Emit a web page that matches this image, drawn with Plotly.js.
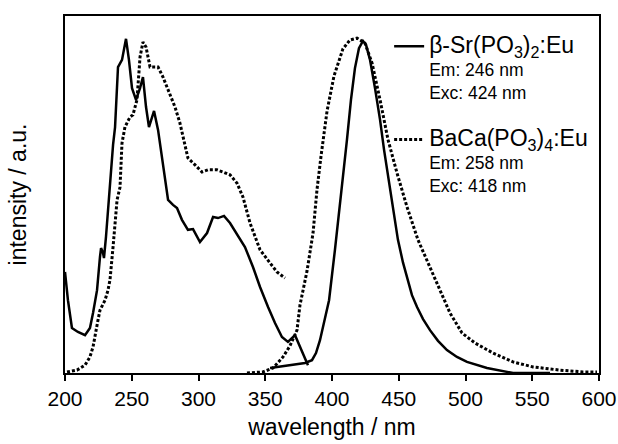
<!DOCTYPE html>
<html>
<head>
<meta charset="utf-8">
<script src="https://cdn.plot.ly/plotly-3.0.1.min.js"></script>
<style>html,body{margin:0;padding:0;background:#fff;}#chart{width:618px;height:444px;}</style>
</head>
<body>
<div id="chart"></div>
<script>
// β-Sr(PO3)2:Eu excitation spectrum (em 424 nm)
const srExcWl = [200.0,202.2,205.2,209.7,215.0,218.7,221.0,224.0,226.2,227.0,228.5,229.2,230.7,233.7,236.0,237.5,239.7,242.7,245.7,247.9,250.2,253.2,256.2,258.4,260.7,262.9,266.7,269.7,272.7,274.9,277.2,280.9,283.9,287.6,292.1,295.9,301.1,306.4,310.9,314.6,319.1,323.6,328.8,334.8,340.8,346.1,352.1,357.3,362.5,367.0,372.3,376.0,379.8,382.0];
const srExcI  = [28.3,20.4,12.6,11.5,10.6,12.6,16.8,23.2,32.5,35.0,33.6,32.2,38.1,54.1,63.9,68.9,85.7,87.7,93.6,87.7,79.8,76.5,79.8,82.9,74.5,68.9,73.4,68.1,60.5,54.1,48.5,47.1,46.2,42.9,40.1,40.3,36.7,39.2,43.7,43.4,44.0,42.0,38.7,35.3,29.7,24.1,18.5,14.0,10.1,8.7,10.6,7.3,4.2,2.2];
// β-Sr(PO3)2:Eu emission spectrum (exc 246 nm)
const srEmWl = [353.6,368.5,379.8,385.0,388.0,391.0,394.0,397.8,402.2,405.2,408.2,411.2,414.2,417.2,420.2,423.2,425.5,428.5,432.2,436.0,439.0,442.0,445.7,449.4,453.2,456.2,459.9,463.7,468.2,473.4,479.4,486.1,493.6,501.1,516.1,535.6,563.3];
const srEmI  = [1.4,2.2,2.8,3.6,5.6,9.2,14.3,20.4,34.5,44.3,54.1,65.3,76.5,85.4,91.0,93.0,91.9,87.7,79.8,70.9,62.5,55.5,45.7,37.3,30.9,26.6,21.8,18.5,15.1,12.0,9.0,6.4,4.5,3.1,1.4,0.0,0.0];
// BaCa(PO3)4:Eu excitation spectrum (em 418 nm)
const baExcWl = [201.5,209.0,215.0,218.7,221.0,223.2,224.7,226.2,230.0,232.2,233.7,236.0,239.0,241.2,242.7,244.9,248.7,250.9,253.9,256.2,258.4,260.7,263.7,267.4,269.7,273.4,277.2,282.4,286.1,289.9,292.1,297.4,302.6,307.1,313.9,318.4,323.6,328.8,333.3,338.6,346.1,353.6,358.8,364.8];
const baExcI  = [0.3,0.8,2.2,4.5,7.3,11.2,14.8,17.6,20.4,23.2,26.1,35.3,48.5,52.0,64.4,68.9,71.7,72.3,76.5,88.5,92.7,91.3,85.7,85.7,85.7,82.9,79.3,74.5,70.0,63.3,60.2,58.3,56.3,56.9,56.9,56.3,55.5,53.2,49.3,42.0,34.5,30.8,28.3,26.6];
// BaCa(PO3)4:Eu emission spectrum (exc 258 nm)
const baEmWl = [336.3,348.3,355.8,363.3,368.5,373.8,376.0,381.3,385.8,388.8,391.8,396.3,401.5,408.2,413.5,418.7,424.7,430.0,436.0,442.0,448.7,456.2,464.4,472.7,480.9,488.4,497.4,507.1,520.6,535.6,550.6,570.8,588.0,598.5];
const baEmI  = [0.0,0.3,1.4,4.5,7.6,12.0,19.0,28.6,39.2,51.5,60.8,73.4,83.2,90.8,93.3,93.8,92.4,86.8,76.5,65.3,56.0,46.5,37.3,30.3,23.2,16.8,11.2,8.4,5.6,3.1,1.7,0.8,0.3,0.3];

const xTicks = [200,250,300,350,400,450,500,550,600];
const srName = "<span style='font-size:23px'>β-Sr(PO<sub>3</sub>)<sub>2</sub>:Eu</span><br>Em: 246 nm<br>Exc: 424 nm";
const baName = "<span style='font-size:23px'>BaCa(PO<sub>3</sub>)<sub>4</sub>:Eu</span><br>Em: 258 nm<br>Exc: 418 nm";

const FONT = "Arial, 'Liberation Sans', Helvetica, sans-serif";
const solid = {color:'#000', width:2.5};
const dotted = {color:'#000', width:3, dash:'3px,2px'};

const traces = [
  {x:srExcWl, y:srExcI, mode:'lines', line:solid, name:srName, legendgroup:'sr', showlegend:true},
  {x:srEmWl, y:srEmI, mode:'lines', line:solid, name:srName, legendgroup:'sr', showlegend:false},
  {x:baExcWl, y:baExcI, mode:'lines', line:dotted, name:baName, legendgroup:'ba', showlegend:true},
  {x:baEmWl, y:baEmI, mode:'lines', line:dotted, name:baName, legendgroup:'ba', showlegend:false}
];

const layout = {
  width:618, height:444,
  margin:{l:65, r:19, t:16, b:71},
  paper_bgcolor:'#fff', plot_bgcolor:'#fff',
  font:{family:FONT, color:'#000'},
  showlegend:true,
  legend:{x:0.607, y:0.965, xanchor:'left', yanchor:'top', bgcolor:'rgba(0,0,0,0)',
          font:{family:FONT, size:17.5, color:'#000'}, valign:'top', tracegroupgap:22,
          itemclick:false},
  xaxis:{range:[200,600], tickvals:xTicks, ticktext:xTicks.map(String), ticks:'outside', ticklen:6, tickwidth:2,
         tickcolor:'#000', showline:true, linewidth:2, linecolor:'#000', mirror:true, showgrid:false, zeroline:false,
         tickfont:{size:21, family:FONT, color:'#000'},
         title:{text:'wavelength / nm', font:{size:23, family:FONT, color:'#000'}, standoff:10}},
  yaxis:{range:[0,100], showticklabels:false, ticks:'', showline:true, linewidth:2, linecolor:'#000', mirror:true,
         showgrid:false, zeroline:false,
         title:{text:'intensity / a.u.', font:{size:23, family:FONT, color:'#000'}, standoff:30}}
};

Plotly.newPlot('chart', traces, layout, {staticPlot:true, displayModeBar:false});
</script>
</body>
</html>
